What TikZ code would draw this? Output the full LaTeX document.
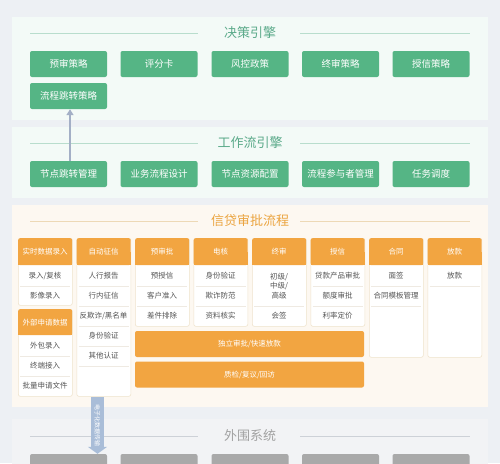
\documentclass[tikz,border=0pt]{standalone}
\usepackage{fontspec}
\setmainfont{Noto Sans CJK SC}
\usetikzlibrary{arrows.meta}
\definecolor{cbg}{HTML}{EDF0F4}
\definecolor{cpgreen}{HTML}{F3FAF7}
\definecolor{cporange}{HTML}{FDF8F1}
\definecolor{cpgray}{HTML}{F2F3F5}
\definecolor{cgreen}{HTML}{55B585}
\definecolor{ctgreen}{HTML}{5BAA8A}
\definecolor{clgreen}{HTML}{B8DDCD}
\definecolor{corange}{HTML}{F2A541}
\definecolor{ctorange}{HTML}{EBA43F}
\definecolor{clorange}{HTML}{EDD9B6}
\definecolor{cgray}{HTML}{A9A9A9}
\definecolor{ctgray}{HTML}{A2A2A2}
\definecolor{clgray}{HTML}{CDD1D7}
\definecolor{ctext}{HTML}{555555}
\definecolor{cborder}{HTML}{EFE3CC}
\definecolor{csep}{HTML}{EFEAE2}
\definecolor{carrow}{HTML}{A3AFC6}
\definecolor{cfat}{HTML}{A9BDD8}
\begin{document}
\begin{tikzpicture}[x=1pt,y=-1pt,
  gbox/.style={fill=cgreen,text=white,rounded corners=2pt,minimum width=77pt,minimum height=26pt,inner sep=0pt,font=\fontsize{9.5}{11}\selectfont},
  graybox/.style={fill=cgray,rounded corners=2pt,minimum width=77pt,minimum height=26pt,inner sep=0pt},
  card/.style={fill=white,draw=cborder,line width=0.6pt,rounded corners=2pt,minimum width=54pt,inner sep=0pt,anchor=north west},
  hdr/.style={fill=corange,text=white,rounded corners=2pt,minimum width=54pt,minimum height=27pt,inner sep=0pt,anchor=north west,font=\fontsize{7.5}{9}\selectfont},
  cell/.style={text=ctext,font=\fontsize{7.5}{9}\selectfont,inner sep=0pt,align=center},
  sep/.style={draw=csep,line width=0.6pt},
  bar/.style={fill=corange,text=white,rounded corners=2pt,minimum width=229pt,minimum height=26pt,inner sep=0pt,font=\fontsize{7.5}{9}\selectfont},
  ttl/.style={font=\fontsize{13}{15}\selectfont,inner sep=0pt},
  tline/.style={line width=0.8pt}
]
\useasboundingbox (0,0) rectangle (500,463);
\clip (0,0) rectangle (500,463);
\fill[cbg] (0,0) rectangle (500,463);
% panels
\fill[cpgreen] (12,17) rectangle (488,120);
\fill[cpgreen] (12,127) rectangle (488,198);
\fill[cporange] (12,205) rectangle (488,407);
\fill[cpgray] (12,419) rectangle (488,470);

% ---- decision engine
\node[ttl,text=ctgreen] (t1) at (250,33) {决策引擎};
\draw[tline,clgreen] (30,33) -- (198,33);
\draw[tline,clgreen] (300,33) -- (470,33);
\node[gbox] (d1) at (68.5,64) {预审策略};
\node[gbox] (d2) at (159,64) {评分卡};
\node[gbox] (d3) at (250,64) {风控政策};
\node[gbox] (d4) at (340.5,64) {终审策略};
\node[gbox] (d5) at (431,64) {授信策略};
\node[gbox] (d6) at (68.5,96) {流程跳转策略};

% ---- workflow engine
\node[ttl,text=ctgreen] (t2) at (250,143) {工作流引擎};
\draw[tline,clgreen] (30,143) -- (198,143);
\draw[tline,clgreen] (300,143) -- (470,143);
\node[gbox] (w1) at (68.5,174) {节点跳转管理};
\node[gbox] (w2) at (159,174) {业务流程设计};
\node[gbox] (w3) at (250,174) {节点资源配置};
\node[gbox] (w4) at (340.5,174) {流程参与者管理};
\node[gbox] (w5) at (431,174) {任务调度};
\draw[carrow,line width=1.4pt,-{Triangle[width=7pt,length=6pt]}] ([xshift=1.5pt]w1.north) -- ([xshift=1.5pt]w1.north |- d6.south) ;

% ---- loan approval
\node[ttl,text=ctorange] (t3) at (250,221) {信贷审批流程};
\draw[tline,clorange] (30,221) -- (198,221);
\draw[tline,clorange] (300,221) -- (470,221);

% card 1a
\node[card,minimum height=67pt] (c1a) at (18,238) {};
\fill[corange] (18,252) rectangle (72,265);
\node[hdr] (h1a) at (18,238) {实时数据录入};
\node[cell] (c1r1) at (45,276) {录入/复核};
\node[cell] (c1r2) at (45,296) {影像录入};
\draw[sep] (20,286) -- (70,286);
% card 1b
\node[card,minimum height=87pt] (c1b) at (18,309) {};
\fill[corange] (18,322) rectangle (72,335);
\node[hdr,minimum height=26pt] (h1b) at (18,309) {外部申请数据};
\node[cell] (c1br1) at (45,346) {外包录入};
\node[cell] (c1br2) at (45,366) {终端接入};
\node[cell] (c1br3) at (45,386) {批量申请文件};
\draw[sep] (20,356) -- (70,356);
\draw[sep] (20,376) -- (70,376);
% card 2
\node[card,minimum height=158pt] (c2) at (76.5,238) {};
\fill[corange] (76.5,252) rectangle (130.5,265);
\node[hdr] (h2) at (76.5,238) {自动征信};
\node[cell] (c2r1) at (103.5,276) {人行报告};
\node[cell] (c2r2) at (103.5,296) {行内征信};
\node[cell] (c2r3) at (103.5,316) {反欺诈/黑名单};
\node[cell] (c2r4) at (103.5,336) {身份验证};
\node[cell] (c2r5) at (103.5,356) {其他认证};
\foreach \yy in {286,306,326,346,366} \draw[sep] (78.5,\yy) -- (128.5,\yy);
% card 3
\node[card,minimum height=88pt] (c3) at (135,238) {};
\fill[corange] (135,252) rectangle (189,265);
\node[hdr] (h3) at (135,238) {预审批};
\node[cell] (c3r1) at (162,276) {预授信};
\node[cell] (c3r2) at (162,296) {客户准入};
\node[cell] (c3r3) at (162,316) {差件排除};
\foreach \yy in {286,306} \draw[sep] (137,\yy) -- (187,\yy);
% card 4
\node[card,minimum height=88pt] (c4) at (193.5,238) {};
\fill[corange] (193.5,252) rectangle (247.5,265);
\node[hdr] (h4) at (193.5,238) {电核};
\node[cell] (c4r1) at (220.5,276) {身份验证};
\node[cell] (c4r2) at (220.5,296) {欺诈防范};
\node[cell] (c4r3) at (220.5,316) {资料核实};
\foreach \yy in {286,306} \draw[sep] (195.5,\yy) -- (245.5,\yy);
% card 5
\node[card,minimum height=88pt] (c5) at (252,238) {};
\fill[corange] (252,252) rectangle (306,265);
\node[hdr] (h5) at (252,238) {终审};
\node[cell,font=\fontsize{7.5}{9.5}\selectfont] (c5r1) at (279,286) {初级/\\中级/\\高级};
\node[cell] (c5r2) at (279,316) {会签};
\draw[sep] (254,306) -- (304,306);
% card 6
\node[card,minimum height=88pt] (c6) at (310.5,238) {};
\fill[corange] (310.5,252) rectangle (364.5,265);
\node[hdr] (h6) at (310.5,238) {授信};
\node[cell] (c6r1) at (337.5,276) {贷款产品审批};
\node[cell] (c6r2) at (337.5,296) {额度审批};
\node[cell] (c6r3) at (337.5,316) {利率定价};
\foreach \yy in {286,306} \draw[sep] (312.5,\yy) -- (362.5,\yy);
% card 7
\node[card,minimum height=119pt] (c7) at (369,238) {};
\fill[corange] (369,252) rectangle (423,265);
\node[hdr] (h7) at (369,238) {合同};
\node[cell] (c7r1) at (396,276) {面签};
\node[cell] (c7r2) at (396,296) {合同模板管理};
\foreach \yy in {286,306} \draw[sep] (371,\yy) -- (421,\yy);
% card 8
\node[card,minimum height=119pt] (c8) at (427.5,238) {};
\fill[corange] (427.5,252) rectangle (481.5,265);
\node[hdr] (h8) at (427.5,238) {放款};
\node[cell] (c8r1) at (454.5,276) {放款};
\draw[sep] (429.5,286) -- (479.5,286);
% bars
\node[bar] (b1) at (249.5,344) {独立审批/快速放款};
\node[bar] (b2) at (249.5,374.5) {质检/复议/回访};

% ---- peripheral systems
\node[ttl,text=ctgray] (t4) at (250,436) {外围系统};
\draw[tline,clgray] (30,436) -- (198,436);
\draw[tline,clgray] (300,436) -- (470,436);
\node[graybox] (p1) at (68.5,467) {};
\node[graybox] (p2) at (159,467) {};
\node[graybox] (p3) at (250,467) {};
\node[graybox] (p4) at (340.5,467) {};
\node[graybox] (p5) at (431,467) {};

% fat arrow
\coordinate (fa) at (97.5,397);
\draw[cfat,line width=13pt,-{Triangle[width=19pt,length=7pt]}] (fa) -- (fa |- p1.north)
  node[midway,sloped,text=white,font=\fontsize{6}{6}\selectfont,inner sep=0pt,yshift=0pt] (ft) {电子化数据传输};
\end{tikzpicture}
\end{document}
